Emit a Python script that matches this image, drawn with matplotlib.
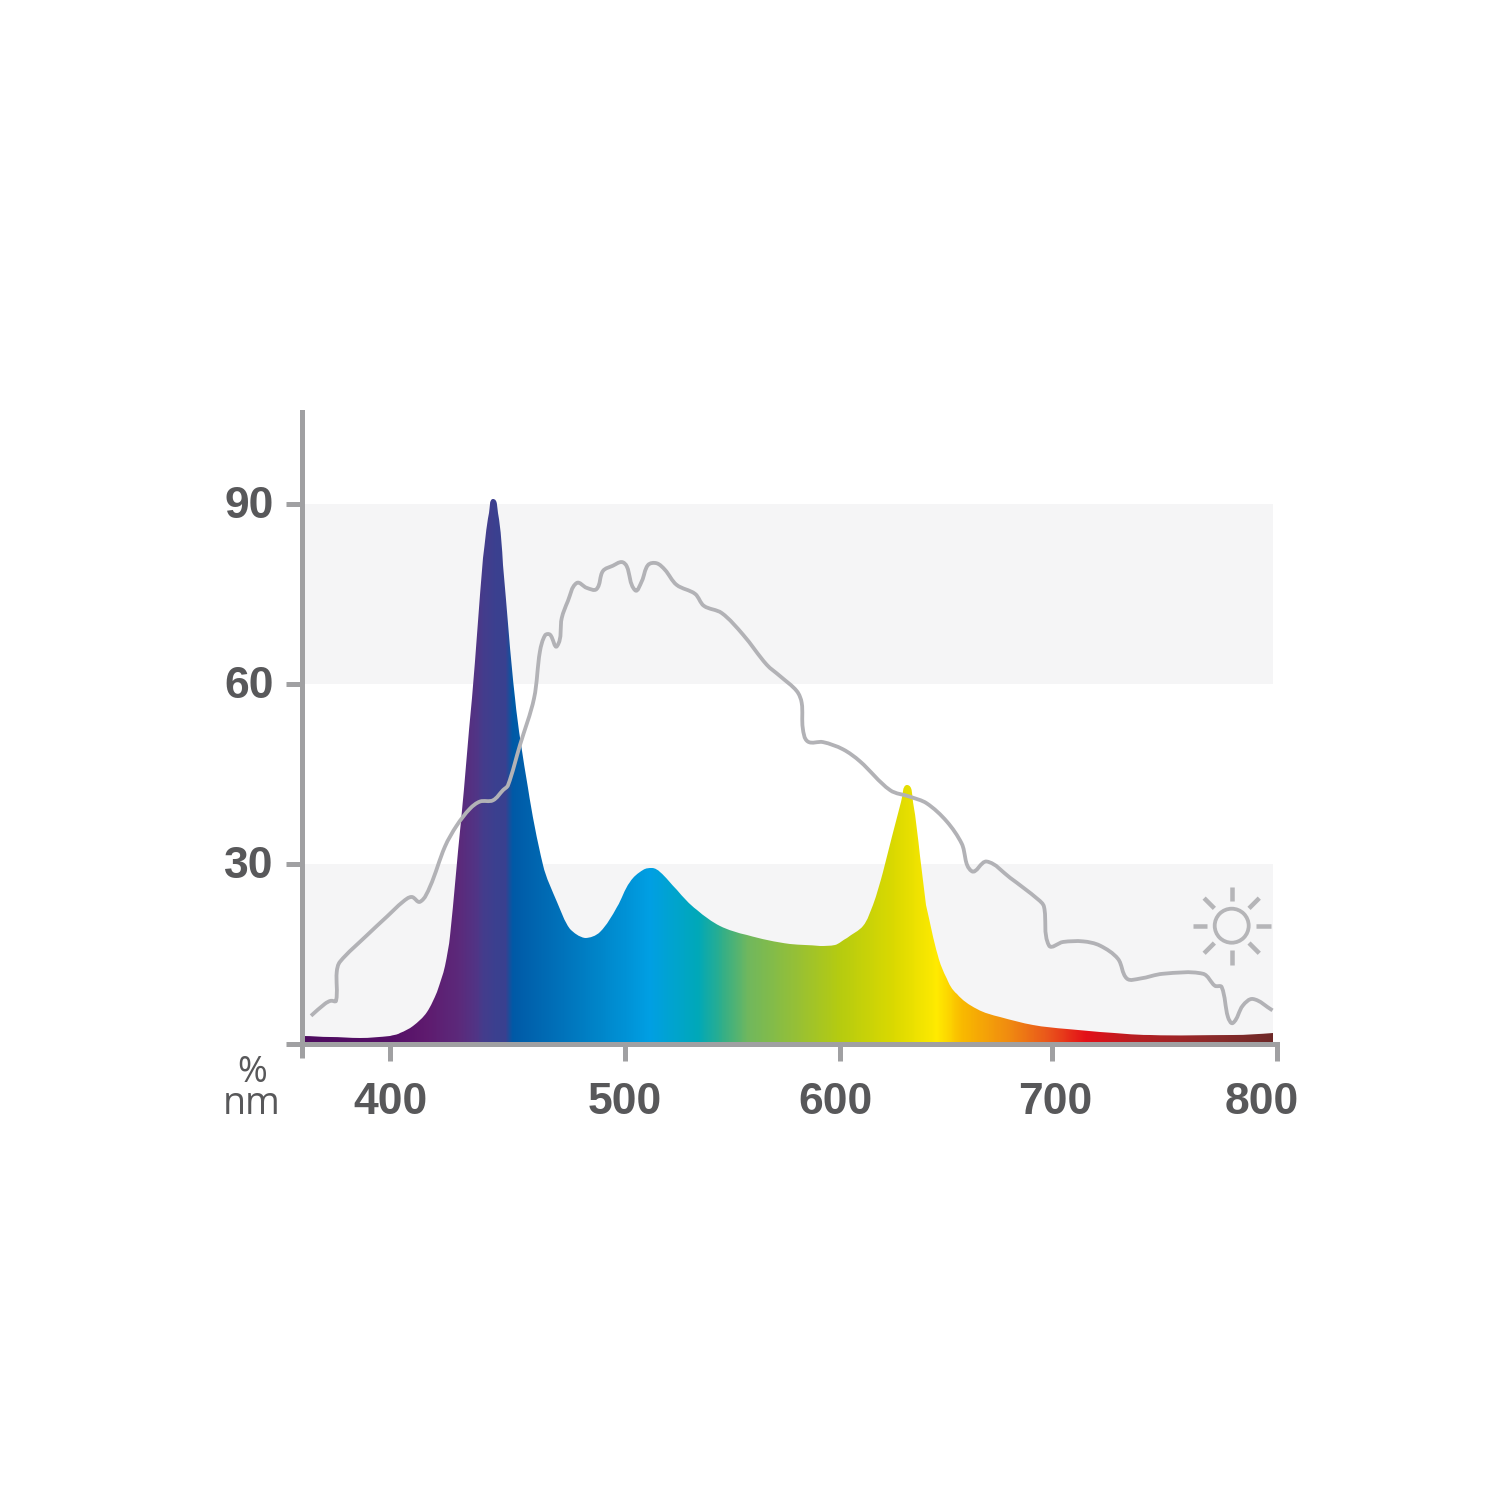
import numpy as np
import matplotlib
matplotlib.use("Agg")
from matplotlib import pyplot as plt
from matplotlib.colors import LinearSegmentedColormap
from matplotlib.lines import Line2D
from matplotlib.patches import Circle, PathPatch
from matplotlib.path import Path
from matplotlib.transforms import ScaledTranslation

# lamp spectrum (nm, %)
lamp_nm = [362.4, 374.1, 387.2, 400, 404.3, 409.8, 415.7, 420, 423.4, 425.5, 430.2,
           434.8, 439.7, 442, 444, 446, 448.2, 453.2, 458.7, 465.2,
           470.9, 476.6, 483, 489.5, 496.5, 502.3, 508.5, 512.4, 516.3, 524, 533.4, 544.2,
           556.6, 576.7, 590.7, 597.7, 603.2, 610.8, 615.5, 620.2, 629, 631.8, 634.4, 637.7,
           640.8, 646.2, 650.3, 655, 664.5, 675.5, 691, 706.5, 721.3, 743.6, 780.4, 798.2]
lamp_pct = [1.3, 1.2, 1.0, 1.4, 1.8, 3.0, 5.3, 8.7, 13, 18, 37.1,
            57.6, 81, 88.5, 90.8, 88.5, 79.8, 57.6, 42.6, 29.8,
            23.7, 19.2, 17.7, 18.7, 22.8, 27, 29, 29.3, 28.7, 25.6, 22.3, 19.7,
            18.1, 16.7, 16.4, 16.5, 17.7, 19.7, 23.1, 28.7, 40.4, 43.1, 40.4, 31.4,
            23.1, 14.7, 10.9, 8.3, 5.8, 4.5, 3.2, 2.5, 2, 1.5, 1.5, 1.8]

# sunlight curve (nm, %)
sun_nm = [365.9, 371.9, 374.4, 376.7, 377, 378.4, 390, 398.6, 405.5, 409.2, 412.8, 417, 423.4, 428.4,
          434, 438.3, 443.8, 448.1, 450.2, 455.3, 461.3, 463.8, 466, 468.1, 471.1, 473.1, 475.7,
          479.4, 483.7, 487.9, 490.6, 494.9, 498.6, 500.8, 504.7, 507.8, 510.7, 514.7, 518.6, 524,
          532.6, 536.7, 545, 554.9, 565.9, 572.1, 579.9, 582.2, 582.7, 585, 592.1, 601.4, 609.4,
          623.6, 633, 640.9, 650.3, 657.4, 662.1, 669.2, 680.2, 693.4, 696.2, 698.6, 704.9, 713.8,
          721.3, 729.3, 733.3, 739.1, 749.3, 767.1, 772.4, 775.4, 778.2, 780.4, 784.8, 789.3, 798]
sun_pct = [4.7, 6.7, 7.2, 7.2, 12.0, 13.7, 18.1, 21.2, 23.7, 24.5, 23.7, 26.2, 32.9, 36.4,
           39.2, 40.4, 40.6, 42.3, 43.1, 49.8, 57.6, 65.4, 68.1, 68.2, 66.3, 71, 73.8,
           76.8, 76, 75.8, 78.8, 79.7, 80.3, 79.6, 75.6, 77.1, 79.8, 80.1, 79, 76.5,
           75, 73, 71.8, 68.2, 63.2, 61.3, 58.8, 56.8, 52.6, 50.4, 50.3, 49.1, 47.1,
           42.3, 41.2, 40.1, 37.1, 33.4, 28.8, 30.4, 27.7, 24.1, 22.9, 16.4, 17, 17.1,
           16.4, 14.2, 10.9, 10.9, 11.7, 11.7, 9.7, 9.5, 4.5, 3.5, 6.4, 7.5, 5.6]

x_ticks = [400, 500, 600, 700, 800]
x_label_shift = [0, 0, -4, 3, -15]
y_ticks = [30, 60, 90]
bands = [(0, 30), (60, 90)]

# spectrum colours along the wavelength
grad_nm = [362, 400, 415, 430, 437, 440, 445, 449, 452, 489, 511.6, 534, 545, 557, 581, 600, 626, 646,
           658, 680, 698, 715, 738, 772, 800]
grad_col = ['#4d0a5e', '#540f66', '#5e1a6e', '#5b2a7b', '#4f3586', '#433c8c', '#3a408f', '#39408f',
            '#0059a6', '#0085c9', '#009fe3', '#00a8b8', '#2fae8a', '#6fb75e', '#98c033', '#b5cb10',
            '#dbd900', '#ffea00', '#f8b800', '#f08a10', '#e9561b', '#e30f18', '#b51e22', '#8a2a2a',
            '#6b2827']

# the printed axis is not quite even, so pin the ticks to where they sit
scale_nm = [362, 400, 500, 600, 700, 800]
scale_pos = [0, 88, 323, 538, 750, 975]


def forward(v):
    return np.interp(v, scale_nm, scale_pos)


def inverse(v):
    return np.interp(v, scale_pos, scale_nm)


def smooth_path(xs, ys):
    # bezier through the read points, handles worked out in pixel-like space
    u = forward(np.array(xs, dtype=float))
    v = np.array(ys, dtype=float) * 6
    pts = np.column_stack([u, v])
    seg = np.hypot(*np.diff(pts, axis=0).T)
    tan = np.zeros_like(pts)
    tan[1:-1] = pts[2:] - pts[:-2]
    tan[0] = pts[1] - pts[0]
    tan[-1] = pts[-1] - pts[-2]
    tan = tan / np.hypot(*tan.T)[:, np.newaxis]
    verts = [pts[0]]
    codes = [Path.MOVETO]
    for i in range(len(seg)):
        verts += [pts[i] + tan[i] * seg[i] / 3, pts[i + 1] - tan[i + 1] * seg[i] / 3, pts[i + 1]]
        codes += [Path.CURVE4] * 3
    verts = np.array(verts)
    verts[:, 0] = inverse(verts[:, 0])
    verts[:, 1] = verts[:, 1] / 6
    return verts, codes


axis_col = '#a0a0a2'
text_col = '#58585a'
px = 0.72  # one pixel in points at dpi 100

fig = plt.figure(figsize=(15, 15), dpi=100, facecolor='white')
ax = fig.add_axes([302 / 1500, (1500 - 1044) / 1500, 975 / 1500, 632 / 1500])
ax.set_xscale('function', functions=(forward, inverse))
ax.set_xlim(362, 800)
ax.set_ylim(0, 105.3)

for lo, hi in bands:
    ax.fill_between([362.9, 798.2], lo, hi, color='#f5f5f6', lw=0, zorder=1)

# gradient clipped to the area under the lamp curve
cmap = LinearSegmentedColormap.from_list(
    'spec', [((n - 362) / (800 - 362), c) for n, c in zip(grad_nm, grad_col)], N=1024)
edges = np.linspace(362, 800, 976)
centers = (edges[:-1] + edges[1:]) / 2
mesh = ax.pcolormesh(edges, [0, 100], centers[np.newaxis, :], cmap=cmap, vmin=362, vmax=800,
                     shading='flat', antialiased=False, zorder=2)
lamp_verts, lamp_codes = smooth_path(lamp_nm, lamp_pct)
clip_verts = np.vstack([lamp_verts, [[lamp_nm[-1], 0], [lamp_nm[0], 0], lamp_verts[0]]])
clip_codes = lamp_codes + [Path.LINETO, Path.LINETO, Path.CLOSEPOLY]
mesh.set_clip_path(Path(clip_verts, clip_codes), transform=ax.transData)

sun_verts, sun_codes = smooth_path(sun_nm, sun_pct)
ax.add_patch(PathPatch(Path(sun_verts, sun_codes), fill=False, edgecolor='#b2b2b6', lw=3.8 * px,
                       joinstyle='round', zorder=3))

for side in ['top', 'right']:
    ax.spines[side].set_visible(False)
for side in ['left', 'bottom']:
    ax.spines[side].set_color(axis_col)
    ax.spines[side].set_linewidth(5 * px)
    ax.spines[side].set_zorder(4)

ax.set_xticks(x_ticks)
ax.set_xticklabels([str(t) for t in x_ticks])
ax.set_xticks([362], minor=True)
ax.set_yticks([0] + y_ticks)
ax.set_yticklabels([''] + [str(t) for t in y_ticks])
ax.tick_params(axis='x', which='major', length=17 * px, width=5 * px, color=axis_col, pad=15)
ax.tick_params(axis='x', which='minor', length=14 * px, width=5 * px, color=axis_col)
ax.tick_params(axis='y', length=16 * px, width=5 * px, color=axis_col, pad=9)
for lab in ax.get_xticklabels() + ax.get_yticklabels():
    lab.set_fontfamily('Liberation Sans')
    lab.set_fontweight('bold')
    lab.set_fontsize(32)
    lab.set_color(text_col)
for lab, dx in zip(ax.get_xticklabels(), x_label_shift):
    lab.set_transform(lab.get_transform() + ScaledTranslation(dx / 100, 0, fig.dpi_scale_trans))
for lab in ax.get_yticklabels():
    lab.set_transform(lab.get_transform() + ScaledTranslation(0, 2 / 100, fig.dpi_scale_trans))

fig.text(252 / 1500, 1 - 1073 / 1500, '%', family='Open Sans', fontsize=26, color=text_col,
         ha='center', va='center')
fig.text(252 / 1500, 1 - 1104 / 1500, 'nm', family='Open Sans', fontsize=27, color=text_col,
         ha='center', va='center')

# sun icon
sun_col = '#b5b5b8'
cx, cy = 1231.7 / 1500, 1 - 925.7 / 1500
fig.add_artist(Circle((cx, cy), 17 / 1500, transform=fig.transFigure, fill=False,
                      edgecolor=sun_col, lw=3.8 * px, zorder=5))
for a in np.deg2rad(np.arange(0, 360, 45)):
    fig.add_artist(Line2D([cx + 24.5 / 1500 * np.cos(a), cx + 39 / 1500 * np.cos(a)],
                          [cy + 24.5 / 1500 * np.sin(a), cy + 39 / 1500 * np.sin(a)],
                          transform=fig.transFigure, color=sun_col, lw=4.5 * px,
                          solid_capstyle='butt', zorder=5))

fig.savefig('out.png', dpi=100, facecolor='white')
